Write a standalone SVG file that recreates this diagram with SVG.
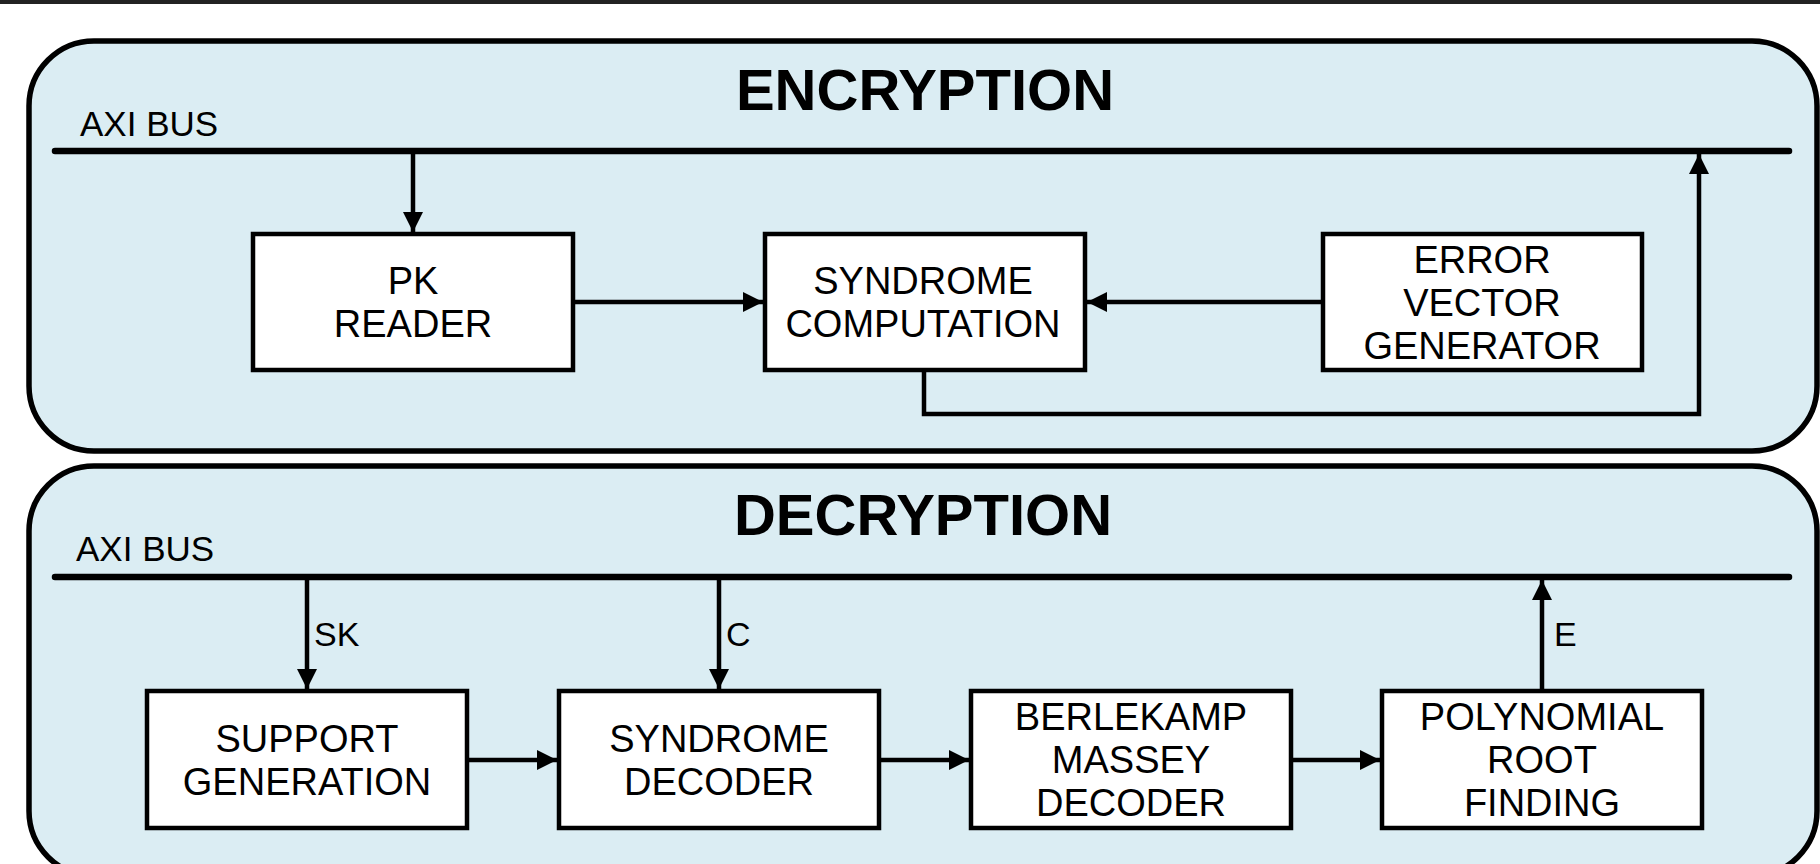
<svg xmlns="http://www.w3.org/2000/svg" width="1820" height="864" viewBox="0 0 1820 864">
<defs>
<style>
.panel{fill:#dbedf3;stroke:#000;stroke-width:5.5}
.box{fill:#fff;stroke:#000;stroke-width:4.5}
.bus{stroke:#000;stroke-width:6.5;stroke-linecap:round;fill:none}
.con{stroke:#000;stroke-width:4.5;fill:none}
.t{font-family:"Liberation Sans",Arial,sans-serif;font-size:38px;fill:#000;text-anchor:middle}
.title{font-family:"Liberation Sans",Arial,sans-serif;font-size:58px;font-weight:bold;fill:#000;text-anchor:middle}
.bl{font-family:"Liberation Sans",Arial,sans-serif;font-size:35px;fill:#000}
.lbl{font-family:"Liberation Sans",Arial,sans-serif;font-size:34px;fill:#000}
</style>
<marker id="ah" markerUnits="userSpaceOnUse" markerWidth="20" markerHeight="20" refX="20" refY="10" orient="auto">
<path d="M0,0 L20,10 L0,20 z" fill="#000"/>
</marker>
</defs>
<rect x="0" y="0" width="1820" height="864" fill="#fff"/>
<rect x="0" y="0" width="1820" height="4" fill="#222"/>

<g id="encryption">
<rect class="panel" x="29" y="41" width="1788" height="410" rx="65" ry="65"/>
<text class="title" x="925" y="110">ENCRYPTION</text>
<text class="bl" x="80" y="136">AXI BUS</text>
<line class="bus" x1="55" y1="151" x2="1789" y2="151"/>
</g>

<g id="decryption">
<rect class="panel" x="29" y="466" width="1788" height="410" rx="65" ry="65"/>
<text class="title" x="923" y="535">DECRYPTION</text>
<text class="bl" x="76" y="561">AXI BUS</text>
<line class="bus" x1="55" y1="577" x2="1789" y2="577"/>
</g>

<g id="connectors">
<line class="con" x1="413" y1="154" x2="413" y2="232" marker-end="url(#ah)"/>
<line class="con" x1="573" y1="302" x2="763" y2="302" marker-end="url(#ah)"/>
<line class="con" x1="1323" y1="302" x2="1087" y2="302" marker-end="url(#ah)"/>
<polyline class="con" points="924,370 924,414 1699,414 1699,154" marker-end="url(#ah)"/>
<line class="con" x1="307" y1="580" x2="307" y2="689" marker-end="url(#ah)"/>
<line class="con" x1="719" y1="580" x2="719" y2="689" marker-end="url(#ah)"/>
<line class="con" x1="1542" y1="691" x2="1542" y2="580" marker-end="url(#ah)"/>
<line class="con" x1="467" y1="760" x2="557" y2="760" marker-end="url(#ah)"/>
<line class="con" x1="879" y1="760" x2="969" y2="760" marker-end="url(#ah)"/>
<line class="con" x1="1291" y1="760" x2="1380" y2="760" marker-end="url(#ah)"/>
<text class="lbl" x="314" y="646">SK</text>
<text class="lbl" x="726" y="646">C</text>
<text class="lbl" x="1554" y="646">E</text>
</g>

<g id="pk-reader">
<rect class="box" x="253" y="234" width="320" height="136"/>
<text class="t" x="413" y="294">PK</text>
<text class="t" x="413" y="337">READER</text>
</g>
<g id="syndrome-computation">
<rect class="box" x="765" y="234" width="320" height="136"/>
<text class="t" x="923" y="294">SYNDROME</text>
<text class="t" x="923" y="337">COMPUTATION</text>
</g>
<g id="error-vector-generator">
<rect class="box" x="1323" y="234" width="319" height="136"/>
<text class="t" x="1482" y="273">ERROR</text>
<text class="t" x="1482" y="316">VECTOR</text>
<text class="t" x="1482" y="359">GENERATOR</text>
</g>

<g id="support-generation">
<rect class="box" x="147" y="691" width="320" height="137"/>
<text class="t" x="307" y="752">SUPPORT</text>
<text class="t" x="307" y="795">GENERATION</text>
</g>
<g id="syndrome-decoder">
<rect class="box" x="559" y="691" width="320" height="137"/>
<text class="t" x="719" y="752">SYNDROME</text>
<text class="t" x="719" y="795">DECODER</text>
</g>
<g id="berlekamp-massey-decoder">
<rect class="box" x="971" y="691" width="320" height="137"/>
<text class="t" x="1131" y="730">BERLEKAMP</text>
<text class="t" x="1131" y="773">MASSEY</text>
<text class="t" x="1131" y="816">DECODER</text>
</g>
<g id="polynomial-root-finding">
<rect class="box" x="1382" y="691" width="320" height="137"/>
<text class="t" x="1542" y="730">POLYNOMIAL</text>
<text class="t" x="1542" y="773">ROOT</text>
<text class="t" x="1542" y="816">FINDING</text>
</g>
</svg>
